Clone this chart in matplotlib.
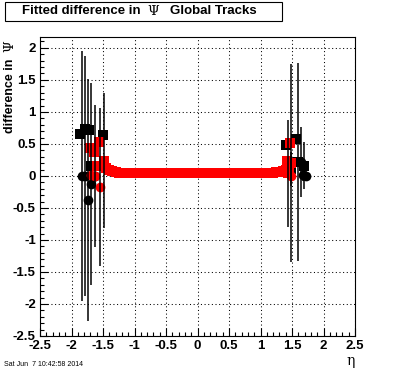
#!/usr/bin/env python3
"""
Fitted difference in Psi vs eta for global tracks (ROOT style canvas).
"""

import numpy as np
import matplotlib

matplotlib.use("Agg")
import matplotlib.pyplot as plt
from matplotlib.patches import Rectangle
from matplotlib.ticker import MultipleLocator

# --- data ---
# black circles
bc_eta = [-1.84, -1.79, -1.74, -1.69, -1.62, 1.64, 1.68, 1.73]
bc_val = [0.00, 0.00, -0.38, -0.13, 0.00, 0.22, 0.02, 0.00]
bc_err = [1.95, 1.88, 1.89, 1.58, 1.11, 0.55, 0.10, 0.08]

# black squares
bs_eta = [-1.86, -1.78, -1.72, -1.69, -1.50, 1.41, 1.49, 1.57, 1.60, 1.69]
bs_val = [0.66, 0.74, 0.71, 0.16, 0.64, 0.49, 0.11, 0.58, 0.22, 0.16]
bs_err = [0.00, 0.00, 0.00, 0.00, 0.00, 0.00, 0.26, 0.00, 1.55, 0.37]

# red squares (outer points)
rs_eta = [-1.71, -1.65, -1.60, -1.56, -1.49, 1.42, 1.43, 1.47, 1.49]
rs_val = [0.44, 0.38, 0.16, 0.53, 0.24, 0.24, 0.04, 0.51, 0.20]
rs_err = [0.00, 0.00, 0.00, 0.00, 1.05, 0.00, 0.83, 0.00, 1.55]

# red squares, central band |eta| < 1.45
band_eta = np.linspace(-1.45, 1.45, 59)
band_val = [0.13, 0.09, 0.07, 0.06, 0.05, 0.05, 0.04, 0.05, 0.04, 0.05,
            0.05, 0.04, 0.04, 0.05, 0.04, 0.04, 0.05, 0.05, 0.04, 0.04,
            0.04, 0.05, 0.04, 0.04, 0.04, 0.04, 0.05, 0.04, 0.04, 0.04,
            0.04, 0.04, 0.05, 0.04, 0.04, 0.04, 0.05, 0.04, 0.04, 0.04,
            0.05, 0.04, 0.04, 0.04, 0.05, 0.04, 0.04, 0.05, 0.04, 0.04,
            0.05, 0.04, 0.05, 0.05, 0.06, 0.06, 0.08, 0.10, 0.13]

# red circles
rc_eta = [-1.69, -1.63, -1.54, 1.49]
rc_val = [0.02, 0.00, -0.17, 0.00]
rc_err = [0.00, 0.00, 1.23, 0.00]

RED = "#ff0000"
BLACK = "#000000"
MS = 7.0


def draw(ax, eta, val, err, marker, color, z):
    ax.plot(eta, val, linestyle="none", marker=marker, color=color,
            markersize=MS, markeredgewidth=0, zorder=z)
    ax.errorbar(eta, val, yerr=err, fmt="none", ecolor=BLACK,
                elinewidth=1.1, capsize=0, zorder=10)


def main():
    fig = plt.figure(figsize=(3.96, 3.72), dpi=100)
    ax = fig.add_axes([40 / 396, 36 / 372, 315 / 396, 299 / 372])

    draw(ax, bs_eta, bs_val, bs_err, "s", BLACK, 3)
    draw(ax, band_eta, band_val, [0.0] * len(band_val), "s", RED, 4)
    draw(ax, rs_eta, rs_val, rs_err, "s", RED, 4)
    draw(ax, bc_eta, bc_val, bc_err, "o", BLACK, 5)
    draw(ax, rc_eta, rc_val, rc_err, "o", RED, 6)

    ax.set_xlim(-2.5, 2.5)
    ax.set_ylim(-2.5, 2.17)
    ax.xaxis.set_major_locator(MultipleLocator(0.5))
    ax.xaxis.set_minor_locator(MultipleLocator(0.1))
    ax.yaxis.set_major_locator(MultipleLocator(0.5))
    ax.yaxis.set_minor_locator(MultipleLocator(0.1))
    ax.tick_params(which="both", direction="in", top=False, right=False,
                   width=0.8, color=BLACK)
    ax.tick_params(which="major", length=5.5, pad=3)
    ax.tick_params(which="minor", length=2.8)
    ax.set_xticks(ax.get_xticks())
    ax.set_xticklabels([f"{v:g}" for v in ax.get_xticks()])
    ax.set_yticks(ax.get_yticks())
    ax.set_yticklabels([f"{v:g}" for v in ax.get_yticks()])
    ax.set_xlim(-2.5, 2.5)
    ax.set_ylim(-2.5, 2.17)
    for lab in ax.get_xticklabels() + ax.get_yticklabels():
        lab.set_fontfamily("Liberation Sans")
        lab.set_fontweight("bold")
        lab.set_fontsize(9.5)
    for sp in ax.spines.values():
        sp.set_linewidth(0.8)
    ax.grid(True, which="major", color=BLACK, linewidth=0.75,
            linestyle=(0, (1, 2.5)))
    ax.set_axisbelow(True)

    # title box
    fig.patches.append(Rectangle((5 / 396, 1 - 21 / 372), 277 / 396, 19 / 372,
                                 transform=fig.transFigure, facecolor="white",
                                 edgecolor=BLACK, linewidth=0.8))
    ty = 1 - 11.5 / 372
    fig.text(22 / 396, ty, "Fitted difference in", fontsize=9.5,
             fontweight="bold", family="Liberation Sans", va="center")
    fig.text(147 / 396, ty, "\u03a8", fontsize=9.5, family="DejaVu Serif",
             va="center")
    fig.text(170 / 396, ty, "Global Tracks", fontsize=9.5, fontweight="bold",
             family="Liberation Sans", va="center")

    # axis titles
    fig.text(10 / 396, 1 - 40 / 372, "\u03a8", rotation=90, fontsize=9.5,
             family="DejaVu Serif", ha="center", va="top")
    fig.text(10 / 396, 1 - 59 / 372, "difference in", rotation=90,
             fontsize=9, fontweight="bold", family="Liberation Sans",
             ha="center", va="top")
    fig.text(351 / 396, 1 - 361 / 372, "\u03b7", fontsize=10,
             family="DejaVu Serif", ha="center", va="center")

    fig.text(4 / 396, 1 - 364 / 372, "Sat Jun  7 10:42:58 2014", fontsize=5,
             family="Liberation Sans", ha="left", va="center")

    fig.savefig("out.png", dpi=100)


if __name__ == "__main__":
    main()
